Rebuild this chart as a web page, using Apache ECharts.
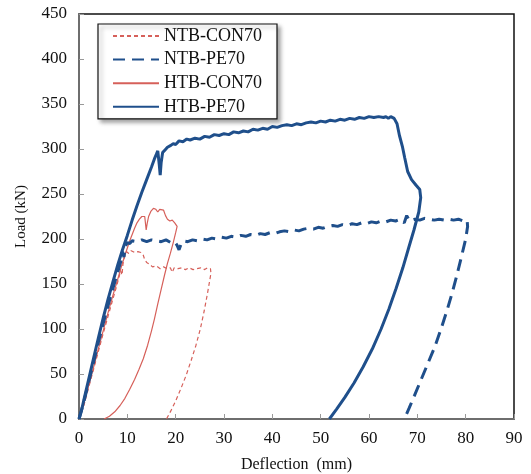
<!DOCTYPE html>
<html><head><meta charset="utf-8">
<script src="https://cdn.jsdelivr.net/npm/echarts@6/dist/echarts.min.js"></script>
<style>html,body{margin:0;padding:0;background:#fff}#c{width:531px;height:474px}</style>
</head><body><div id="c"></div>
<script>
var xTicks = [0,10,20,30,40,50,60,70,80,90];
var yTicks = [0,50,100,150,200,250,300,350,400,450];
var seriesNames = ['NTB-CON70','NTB-PE70','HTB-CON70','HTB-PE70'];

var ntbCon70 = [[0,0],[1,15],[2,35],[3,55],[4,75],[5,95],[6,114],[7,133],[7.8,148],[8.3,158],[8.6,165],[8.9,160],[9.1,172],[9.4,180],[9.8,186],[10.3,184],[10.8,187],[11.5,185],[12.2,186],[12.8,185],[13.3,182],[13.6,177],[14,174],[14.6,172],[15.2,169],[16,170],[16.8,167],[17.5,169],[18.2,167],[18.9,168],[19.3,163],[19.7,168],[20.5,167],[21.2,168],[22,166],[22.8,168],[23.6,166],[24.4,167],[25.2,168],[26,166],[26.6,168],[27.2,167],[27.3,162],[26.6,140],[25.9,120],[25.1,100],[24.2,82],[23.2,65],[22.2,49],[21.1,34],[20,20],[19,9],[18.1,0]];

var ntbPe70 = [[0,0],[1,19],[2,41],[3,63],[4,85],[5,106],[6,126],[7,145],[8,163],[8.7,176],[9.0,186],[9.3,180],[9.6,192],[10,196],[10.5,195],[11,198],[12,197],[13,199],[14,197],[15,199],[16,198],[17,197],[18,199],[19,196],[19.8,197],[20.3,193],[20.7,188],[21.1,194],[21.6,198],[22.5,197],[23.5,199],[24.5,198],[25.5,200],[26.5,199],[27.5,201],[28.5,200],[29.5,202],[30.5,201],[31.5,203],[32.5,202],[33.5,204],[34.5,203],[35.5,205],[36.5,204],[37.5,206],[38.5,205],[39.5,207],[40.5,206],[41.5,208],[42.5,209],[43.5,208],[44.5,210],[45.5,209],[46.5,211],[47.5,212],[48.5,211],[49.5,213],[50.5,212],[51.5,214],[52.5,215],[53.5,214],[54.5,216],[55.5,215],[56.5,217],[57.5,216],[58.5,218],[59.5,217],[60.5,219],[61.5,218],[62.5,220],[63.5,219],[64.5,221],[65.5,220],[66.5,222],[67.3,218],[67.8,226],[68.4,220],[69.5,222],[70.5,221],[71.5,223],[72.5,222],[73.5,221],[74.5,222],[75.5,221],[76.5,222],[77.5,221],[78.5,222],[79.5,220],[80.3,221],[80.4,214],[80,200],[79.2,182],[78.2,160],[77.2,140],[76.1,120],[74.9,100],[73.6,80],[72.2,62],[70.8,44],[69.4,26],[68.3,12],[67.3,0]];

var htbCon70 = [[0,0],[1,17],[2,37],[3,57],[4,78],[5,98],[6,118],[7,137],[8,155],[8.8,170],[9.5,182],[10,190],[10.5,198],[11,205],[11.5,212],[12,218],[12.5,222],[13,225],[13.3,227],[13.6,225],[13.9,210],[14.1,217],[14.4,225],[14.9,231],[15.4,234],[15.9,233],[16.3,230],[16.7,233],[17.1,235],[17.5,232],[17.9,226],[18.3,222],[18.8,220],[19.3,221],[19.8,218],[20.1,219],[20.3,214],[20.0,207],[19.5,196],[18.9,184],[18.3,173],[17.7,160],[17.0,144],[16.3,128],[15.6,111],[15.0,98],[14.2,82],[13.3,67],[12.4,55],[11.5,44],[10.5,33],[9.5,23],[8.5,15],[7.4,8],[6.3,3],[5.2,0]];

var htbPe70 = [[0,0],[0.5,9],[1,21],[2,44],[3,67],[4,90],[5,112],[6,133],[7,152],[8,171],[9,188],[10,204],[11,221],[12,237],[13,252],[14,266],[15,280],[15.6,289],[16.0,294],[16.3,298],[16.6,283],[16.8,271],[17.0,285],[17.3,296],[17.8,299],[18.3,302],[19,304],[19.5,306],[20,305],[20.7,309],[21.5,308],[22.3,311],[23,310],[24,312],[25,311],[26,314],[27,313],[28,316],[29,315],[30,317],[31,316],[32,319],[33,318],[34,320],[35,319],[36,322],[37,321],[38,323],[39,322],[40,325],[41,324],[42,326],[43,327],[44,326],[45,328],[46,327],[47,329],[48,330],[49,329],[50,331],[51,330],[52,332],[53,331],[54,333],[55,332],[56,334],[57,333],[58,335],[59,334],[60,336],[61,335],[62,336],[63,335],[63.5,336],[64,334],[64.5,336],[65.2,334],[65.8,328],[66.3,315],[66.9,303],[67.4,290],[68,275],[68.8,266],[69.7,260],[70.5,255],[70.7,246],[70.3,230],[69.3,210],[68.2,190],[67.0,168],[65.6,145],[64.1,122],[62.5,100],[60.7,78],[58.8,58],[56.9,40],[55,24],[53.3,11],[51.8,0]];

var NAVY = '#1f4f8b';
var RED = '#d6605a';
var FONT = 'Liberation Serif';

function mk(name, data, color, width, type, z) {
  return {name: name, type: 'line', data: data, showSymbol: false, symbol: 'none', smooth: false,
    lineStyle: {color: color, width: width, type: type}, itemStyle: {color: color}, z: z, animation: false};
}

var chart = echarts.init(document.getElementById('c'));
chart.setOption({
  animation: false,
  backgroundColor: '#fff',
  grid: {left: 79, top: 14, right: 17, bottom: 55, outerBoundsMode: 'none', containLabel: false, show: true, borderColor: '#111', borderWidth: 1.5, backgroundColor: 'transparent'},
  legend: {
    data: seriesNames,
    orient: 'vertical', left: 98, top: 24,
    itemWidth: 46, itemHeight: 14, itemGap: 5.6,
    padding: [3, 15, 3, 14],
    itemStyle: {opacity: 0},
    backgroundColor: '#fff', borderColor: '#111', borderWidth: 1.2,
    shadowColor: 'rgba(0,0,0,0.35)', shadowBlur: 4, shadowOffsetX: 3, shadowOffsetY: 3,
    textStyle: {fontFamily: FONT, fontSize: 18, color: '#111', lineHeight: 18}
  },
  xAxis: {
    type: 'value', min: 0, max: 90, interval: 10,
    name: 'Deflection  (mm)', nameLocation: 'middle', nameGap: 38,
    nameTextStyle: {fontFamily: FONT, fontSize: 16, color: '#111'},
    axisLine: {show: true, onZero: false, lineStyle: {color: '#6e6e6e', width: 2}},
    axisTick: {show: true, inside: true, length: 5, lineStyle: {color: '#999', width: 1}},
    axisLabel: {fontFamily: FONT, fontSize: 17, color: '#111', margin: 11, formatter: function(v){return xTicks.indexOf(v) >= 0 ? String(v) : '';}},
    splitLine: {show: false}
  },
  yAxis: {
    type: 'value', min: 0, max: 450, interval: 50,
    name: 'Load (kN)', nameLocation: 'middle', nameGap: 50, nameRotate: 90,
    nameTextStyle: {fontFamily: FONT, fontSize: 15, color: '#111'},
    axisLine: {show: true, onZero: false, lineStyle: {color: '#6e6e6e', width: 2}},
    axisTick: {show: true, inside: true, length: 5, lineStyle: {color: '#999', width: 1}},
    axisLabel: {fontFamily: FONT, fontSize: 17, color: '#111', margin: 12, formatter: function(v){return yTicks.indexOf(v) >= 0 ? String(v) : '';}},
    splitLine: {show: false}
  },
  series: [
    mk(seriesNames[0], ntbCon70, RED, 1.2, [4, 3], 3),
    mk(seriesNames[1], ntbPe70, NAVY, 3, [12, 7], 4),
    mk(seriesNames[2], htbCon70, RED, 1.2, 'solid', 3),
    mk(seriesNames[3], htbPe70, NAVY, 3, 'solid', 5)
  ]
});
</script></body></html>
